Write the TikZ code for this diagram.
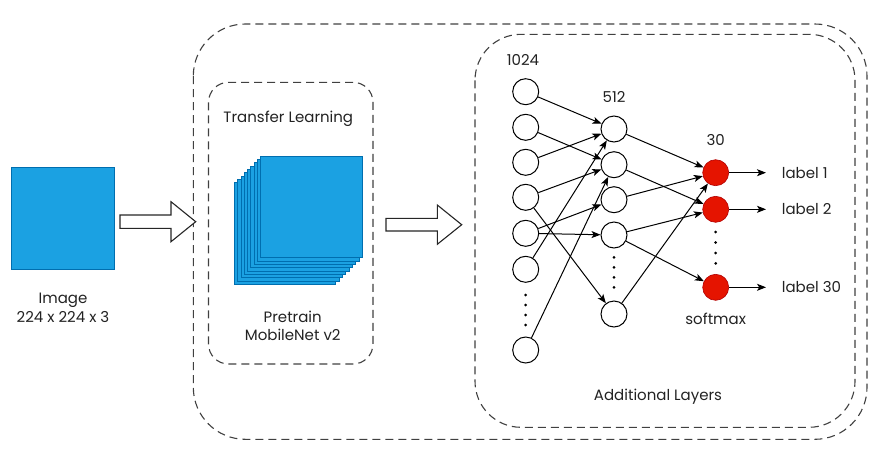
\documentclass[tikz,border=0pt]{standalone}
\usepackage{fontspec}
\setmainfont{Poppins}
\usetikzlibrary{arrows.meta}
\definecolor{boxblue}{HTML}{1BA1E2}
\definecolor{boxstroke}{HTML}{006EAF}
\definecolor{neured}{HTML}{E51400}
\definecolor{neustroke}{HTML}{B20000}
\definecolor{txtgray}{HTML}{222222}
\begin{document}
\begin{tikzpicture}[x=1pt,y=-1pt,
  neuron/.style={circle, draw, line width=1pt, minimum size=26pt, inner sep=0pt, fill=white},
  outn/.style={circle, draw=neustroke, line width=0.6pt, fill=neured, minimum size=26pt, inner sep=0pt},
  conn/.style={line width=1pt, -{Stealth[length=9pt,width=7pt,inset=2.2pt]}},
  dashbox/.style={draw=black!75, line width=1.1pt, dash pattern=on 8pt off 5pt},
  txt/.style={font=\fontsize{15}{18}\selectfont, inner sep=0pt, text=txtgray, text height=10.8pt, text depth=0pt},
  blockarrow/.style={draw=black!85, line width=1.1pt, fill=white, line join=miter},
  layer/.style={fill=boxblue, draw=boxstroke, line width=0.7pt}
]
\useasboundingbox (0,0) rectangle (894,461);

% containers
\draw[dashbox, rounded corners=52pt] (193.3,24) rectangle (867,439.3);
\draw[dashbox, rounded corners=20pt] (208.5,82.3) rectangle (373,364);
\draw[dashbox, rounded corners=46pt] (475,34.3) rectangle (855,427.3);

% input image
\draw[layer] (11.7,167.3) rectangle (114.3,269.3);
\node[txt] (imgA) at (63,297.7) {Image};
\node[txt] (imgB) at (63,316.7) {224 x 224 x 3};

% block arrows
\draw[blockarrow] (120,215) -- (171,215) -- (171,201.7) -- (195.7,221.7) -- (171,241.7) -- (171,228.3) -- (120,228.3) -- cycle;
\draw[blockarrow] (386,218.3) -- (437.3,218.3) -- (437.3,205) -- (461.7,224.7) -- (437.3,244.3) -- (437.3,231) -- (386,231) -- cycle;

% MobileNet stack
\foreach \k in {0,...,8} {
  \draw[layer] (234.3+3.3*\k, 182.7-3.33*\k) rectangle ++(101.5,101.5);
}
\node[txt] (tl) at (288.3,116.7) {Transfer Learning};
\node[txt] (ptA) at (292.7,316.7) {Pretrain};
\node[txt] (ptB) at (292.7,335) {MobileNet v2};

% input layer
\node[neuron] (i1) at (525.7,91.7) {};
\node[neuron] (i2) at (525.7,127.3) {};
\node[neuron] (i3) at (525.7,162.3) {};
\node[neuron] (i4) at (525.7,197.3) {};
\node[neuron] (i5) at (525.7,233.3) {};
\node[neuron] (i6) at (525.7,269.3) {};
\node[neuron] (i7) at (525.7,350) {};
\foreach \yy in {295,305,315,325} \fill (525.7,\yy) circle (1.5pt);
\node[txt] (n1024) at (523,60) {1024};

% hidden layer
\node[neuron] (h1) at (614,129) {};
\node[neuron] (h2) at (614,164.7) {};
\node[neuron] (h3) at (614,199.7) {};
\node[neuron] (h4) at (614,235) {};
\node[neuron] (h5) at (614,314) {};
\foreach \yy in {257.3,267.3,277.3,287.3} \fill (614,\yy) circle (1.5pt);
\node[txt] (n512) at (614,96.7) {512};

% output layer
\node[outn] (o1) at (715.7,172.7) {};
\node[outn] (o2) at (715.7,209.3) {};
\node[outn] (o3) at (715.7,287.3) {};
\foreach \yy in {232,242.5,253,263.3} \fill (715.7,\yy) circle (1.5pt);
\node[txt] (n30) at (715.7,140) {30};
\node[txt] (sm) at (715.7,319) {softmax};
\node[txt] (thead) at (658,395) {Additional Layers};

% labels
\node[txt, anchor=west] (l1) at (781.7,172.7) {label 1};
\node[txt, anchor=west] (l2) at (781.7,209.3) {label 2};
\node[txt, anchor=west] (l3) at (781.7,287.3) {label 30};
\coordinate (e1) at (766,172.7);
\coordinate (e2) at (766,209.3);
\coordinate (e3) at (766,287.3);

% input -> hidden
\draw[conn] (i1) -- (h1);
\draw[conn] (i2) -- (h2);
\draw[conn] (i3) -- (h1);
\draw[conn] (i4) -- (h2);
\draw[conn] (i4) -- (h5);
\draw[conn] (i5) -- (h3);
\draw[conn] (i5) -- (h4);
\draw[conn] (i6) -- (h1);
\draw[conn] (i7) -- (h2);

% hidden -> output
\draw[conn] (h1) -- (o1);
\draw[conn] (h2) -- (o2);
\draw[conn] (h3) -- (o1);
\draw[conn] (h4) -- (o2);
\draw[conn] (h4) -- (o3);
\draw[conn] (h5) -- (o1);

% output -> labels
\draw[conn] (o1) -- (e1);
\draw[conn] (o2) -- (e2);
\draw[conn] (o3) -- (e3);
\end{tikzpicture}
\end{document}
